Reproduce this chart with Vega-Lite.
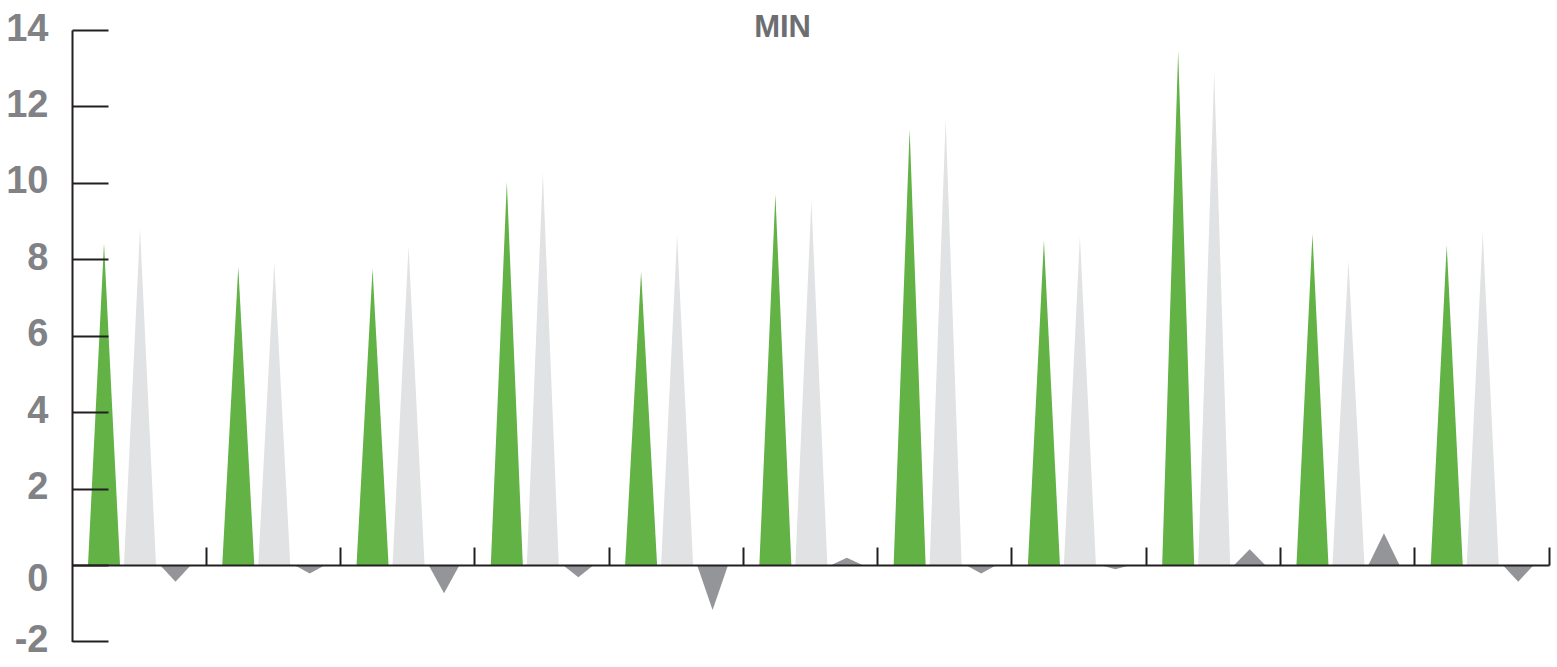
{
  "$schema": "https://vega.github.io/schema/vega-lite/v6.json",
  "autosize": "none",
  "width": 1477,
  "height": 611.4,
  "padding": {"left": 72, "top": 30, "right": 8, "bottom": 25.6},
  "background": "white",
  "config": {"view": {"stroke": null}},
  "data": {
    "values": [
      {"g": 1, "series": "observed", "value": 8.42},
      {"g": 2, "series": "observed", "value": 7.8},
      {"g": 3, "series": "observed", "value": 7.75},
      {"g": 4, "series": "observed", "value": 10.02},
      {"g": 5, "series": "observed", "value": 7.68},
      {"g": 6, "series": "observed", "value": 9.7},
      {"g": 7, "series": "observed", "value": 11.4},
      {"g": 8, "series": "observed", "value": 8.5},
      {"g": 9, "series": "observed", "value": 13.45},
      {"g": 10, "series": "observed", "value": 8.66},
      {"g": 11, "series": "observed", "value": 8.37},
      {"g": 1, "series": "normal", "value": 8.8},
      {"g": 2, "series": "normal", "value": 7.92},
      {"g": 3, "series": "normal", "value": 8.34},
      {"g": 4, "series": "normal", "value": 10.27},
      {"g": 5, "series": "normal", "value": 8.63},
      {"g": 6, "series": "normal", "value": 9.53},
      {"g": 7, "series": "normal", "value": 11.65},
      {"g": 8, "series": "normal", "value": 8.6},
      {"g": 9, "series": "normal", "value": 12.9},
      {"g": 10, "series": "normal", "value": 7.96},
      {"g": 11, "series": "normal", "value": 8.7},
      {"g": 1, "series": "difference", "value": -0.44},
      {"g": 2, "series": "difference", "value": -0.22},
      {"g": 3, "series": "difference", "value": -0.74},
      {"g": 4, "series": "difference", "value": -0.32},
      {"g": 5, "series": "difference", "value": -1.18},
      {"g": 6, "series": "difference", "value": 0.19},
      {"g": 7, "series": "difference", "value": -0.22},
      {"g": 8, "series": "difference", "value": -0.11},
      {"g": 9, "series": "difference", "value": 0.41},
      {"g": 10, "series": "difference", "value": 0.83},
      {"g": 11, "series": "difference", "value": -0.44}
    ]
  },
  "encoding": {
    "x": {
      "field": "g",
      "type": "ordinal",
      "scale": {"type": "band", "paddingInner": 0, "paddingOuter": 0},
      "axis": {
        "orient": "bottom",
        "offset": -76.4,
        "title": null,
        "labels": false,
        "bandPosition": 1,
        "tickSize": -18,
        "tickWidth": 2,
        "tickColor": "#231f20",
        "domainColor": "#231f20",
        "domainWidth": 2,
        "grid": false,
        "zindex": 1
      }
    },
    "y": {
      "field": "value",
      "type": "quantitative",
      "stack": null,
      "scale": {"domain": [-2, 14], "nice": false, "zero": false},
      "axis": {
        "title": null,
        "values": [-2, 0, 2, 4, 6, 8, 10, 12, 14],
        "labelExpr": "'' + datum.value",
        "grid": false,
        "tickSize": -36,
        "tickWidth": 2,
        "tickColor": "#231f20",
        "domainColor": "#231f20",
        "domainWidth": 2,
        "labelPadding": 60,
        "labelAlign": "right",
        "labelBaseline": "middle",
        "labelOffset": {"condition": {"test": "datum.value === 0", "value": 15}, "value": -1},
        "labelFont": "Liberation Sans, Arial, sans-serif",
        "labelFontSize": 38,
        "labelFontWeight": "bold",
        "labelColor": "#808285",
        "zindex": 1
      }
    },
    "detail": {"field": "g", "type": "ordinal"}
  },
  "layer": [
    {
      "transform": [
        {"filter": "datum.series === 'observed'"},
        {"impute": "value", "key": "series", "keyvals": ["0-observed", "observed-1"], "groupby": ["g"], "value": 0}
      ],
      "mark": {"type": "area", "color": "#62b246", "interpolate": "linear"},
      "encoding": {
        "xOffset": {"field": "series", "type": "nominal", "scale": {"type": "point", "domain": ["0-observed", "observed", "observed-1"], "range": [16, 48], "padding": 0}}
      }
    },
    {
      "transform": [
        {"filter": "datum.series === 'normal'"},
        {"impute": "value", "key": "series", "keyvals": ["0-normal", "normal-1"], "groupby": ["g"], "value": 0}
      ],
      "mark": {"type": "area", "color": "#e1e2e3", "interpolate": "linear"},
      "encoding": {
        "x": {"field": "g", "type": "ordinal", "scale": {"type": "band", "paddingInner": 0, "paddingOuter": 0}, "axis": null},
        "xOffset": {"field": "series", "type": "nominal", "scale": {"type": "point", "domain": ["0-normal", "normal", "normal-1"], "range": [52, 84], "padding": 0}}
      }
    },
    {
      "transform": [
        {"filter": "datum.series === 'difference'"},
        {"impute": "value", "key": "series", "keyvals": ["0-difference", "difference-1"], "groupby": ["g"], "value": 0}
      ],
      "mark": {"type": "area", "color": "#939598", "interpolate": "linear"},
      "encoding": {
        "x": {
          "field": "g",
          "type": "ordinal",
          "scale": {"type": "band", "paddingInner": 0, "paddingOuter": 0},
          "axis": {
            "orient": "top",
            "title": "MIN",
            "labels": false,
            "ticks": false,
            "domain": false,
            "grid": false,
            "titlePadding": -6,
            "titleAlign": "right",
            "titleBaseline": "alphabetic",
            "titleAngle": 0,
            "titleFont": "Liberation Sans, Arial, sans-serif",
            "titleFontSize": 31,
            "titleFontWeight": "bold",
            "titleColor": "#6d6e71",
            "zindex": 1
          }
        },
        "xOffset": {"field": "series", "type": "nominal", "scale": {"type": "point", "domain": ["0-difference", "difference", "difference-1"], "range": [88, 119], "padding": 0}}
      }
    }
  ],
  "resolve": {"scale": {"xOffset": "independent"}, "axis": {"x": "independent"}}
}
